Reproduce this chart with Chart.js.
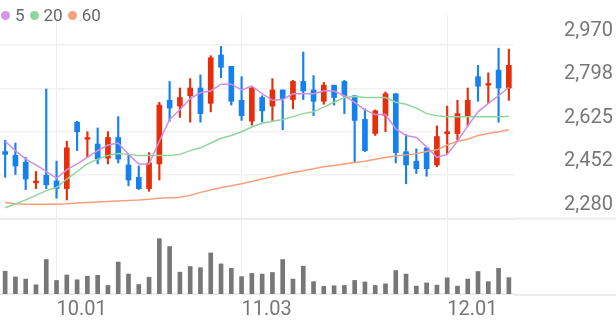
<!DOCTYPE html>
<html>
<head>
<meta charset="utf-8">
<script src="https://cdn.jsdelivr.net/npm/chart.js@4/dist/chart.umd.min.js"></script>
<style>
  body { margin: 0; background: #fff; }
  #wrap { position: relative; width: 616px; height: 321px; }
  #legend { position: absolute; left: 1px; top: 5px; font: 17px Roboto, sans-serif; color: #666; display: flex; align-items: center; }
  #legend i { display: inline-block; width: 9px; height: 9px; border-radius: 50%; margin-right: 5px; }
  #legend span { margin-right: 5px; }
</style>
</head>
<body>
<div id="wrap">
  <canvas id="chart" width="616" height="321"></canvas>
  <div id="legend">
    <i style="background:#d596ea"></i><span>5</span>
    <i style="background:#8fd69c"></i><span>20</span>
    <i style="background:#f8a17c"></i><span>60</span>
  </div>
</div>
<script>
// daily candles, 09.24 - 12.09
const dates = ['09.24', '09.25', '09.26', '09.29', '09.30',
    '10.01', '10.02', '10.10', '10.13', '10.14', '10.15', '10.16', '10.17', '10.20', '10.21',
    '10.22', '10.23', '10.24', '10.27', '10.28', '10.29', '10.30', '10.31',
    '11.03', '11.04', '11.05', '11.06', '11.07', '11.10', '11.11', '11.12', '11.13', '11.14',
    '11.17', '11.18', '11.19', '11.20', '11.21', '11.24', '11.25', '11.26', '11.27', '11.28',
    '12.01', '12.02', '12.03', '12.04', '12.05', '12.08', '12.09'];

const open = [2546, 2531, 2504, 2422, 2452, 2429, 2399, 2663, 2595, 2576,
    2520, 2602, 2493, 2444, 2399, 2497, 2750, 2727, 2768, 2799,
    2738, 2930, 2885, 2750, 2667, 2761, 2727, 2791, 2753, 2825,
    2791, 2746, 2810, 2825, 2768, 2674, 2618, 2689, 2776, 2546,
    2508, 2561, 2493, 2617, 2618, 2689, 2844, 2810, 2870, 2799];
const high = [2591, 2580, 2523, 2467, 2795, 2508, 2587, 2667, 2625, 2640,
    2625, 2685, 2535, 2489, 2542, 2742, 2825, 2799, 2836, 2851,
    2927, 2964, 2885, 2844, 2806, 2768, 2836, 2791, 2829, 2942,
    2848, 2821, 2810, 2829, 2768, 2716, 2712, 2783, 2776, 2614,
    2557, 2561, 2648, 2727, 2750, 2799, 2889, 2859, 2957, 2953];
const low = [2444, 2455, 2395, 2399, 2399, 2361, 2354, 2550, 2523, 2497,
    2497, 2501, 2410, 2395, 2388, 2433, 2667, 2682, 2663, 2663,
    2704, 2840, 2731, 2670, 2651, 2663, 2667, 2633, 2716, 2753,
    2689, 2734, 2731, 2697, 2504, 2546, 2610, 2625, 2501, 2418,
    2459, 2448, 2486, 2538, 2591, 2648, 2746, 2738, 2663, 2750];
const close = [2535, 2489, 2437, 2429, 2414, 2399, 2561, 2625, 2602, 2516,
    2602, 2516, 2433, 2399, 2501, 2731, 2719, 2761, 2799, 2697,
    2919, 2881, 2746, 2689, 2799, 2708, 2791, 2757, 2825, 2787,
    2746, 2810, 2761, 2768, 2670, 2550, 2708, 2776, 2542, 2493,
    2478, 2478, 2606, 2625, 2697, 2750, 2806, 2817, 2799, 2889];

const volume = [240, 180, 157, 97, 363, 143, 200, 150, 187, 197,
    90, 337, 210, 100, 177, 583, 500, 230, 290, 277,
    433, 317, 270, 183, 217, 210, 227, 363, 157, 293,
    130, 80, 87, 90, 143, 127, 90, 107, 247, 210,
    83, 117, 93, 170, 83, 157, 237, 130, 270, 173];

const ma5 = [2587, 2550, 2516, 2493, 2467, 2440, 2474, 2497, 2523, 2550,
    2572, 2580, 2535, 2497, 2497, 2587, 2674, 2712, 2757, 2780,
    2787, 2814, 2814, 2791, 2806, 2776, 2750, 2753, 2776, 2776,
    2776, 2787, 2787, 2768, 2742, 2712, 2693, 2693, 2636, 2610,
    2602, 2565, 2523, 2535, 2587, 2648, 2704, 2738, 2768, 2802];
const ma20 = [2323, 2338, 2354, 2372, 2391, 2403, 2437, 2467, 2497, 2516,
    2531, 2538, 2535, 2531, 2531, 2531, 2531, 2535, 2550, 2561,
    2580, 2599, 2610, 2625, 2644, 2659, 2667, 2674, 2685, 2697,
    2704, 2723, 2742, 2761, 2765, 2761, 2761, 2761, 2742, 2734,
    2719, 2697, 2689, 2685, 2685, 2685, 2685, 2685, 2685, 2687];
const ma60 = [2344, 2339, 2337, 2337, 2337, 2337, 2339, 2342, 2344, 2346,
    2348, 2350, 2352, 2354, 2357, 2361, 2363, 2365, 2372, 2384,
    2393, 2403, 2410, 2418, 2427, 2437, 2446, 2455, 2463, 2470,
    2478, 2486, 2491, 2497, 2503, 2508, 2516, 2523, 2529, 2533,
    2538, 2546, 2553, 2572, 2587, 2595, 2610, 2618, 2625, 2633];

const priceTicks = [2280, 2452.5, 2625, 2797.5, 2970];
const priceLabels = ['2,280', '2,452', '2,625', '2,798', '2,970'];

const UP = '#e62e0b';
const DOWN = '#1580f0';
const candleColor = ctx => close[ctx.dataIndex] >= open[ctx.dataIndex] ? UP : DOWN;

// first trading day of a month gets a label + grid line
const isMonthStart = i => i > 0 && dates[i].slice(0, 2) !== dates[i - 1].slice(0, 2);

// price/volume separator and bottom line run under the axis labels too
const fullWidthLines = {
    id: 'fullWidthLines',
    afterDraw(chart) {
        const { ctx, chartArea, scales } = chart;
        const ySep = scales.y.getPixelForValue(priceTicks[0]);
        ctx.save();
        ctx.strokeStyle = '#ececec';
        ctx.lineWidth = 2;
        ctx.beginPath();
        ctx.moveTo(chartArea.right, ySep);
        ctx.lineTo(chart.width, ySep);
        ctx.moveTo(chartArea.right, chartArea.bottom + 1);
        ctx.lineTo(chart.width, chartArea.bottom + 1);
        ctx.stroke();
        ctx.restore();
    }
};

new Chart(document.getElementById('chart'), {
    data: {
        labels: dates,
        datasets: [
            { type: 'line', data: ma5, borderColor: '#cf8fe6', borderWidth: 1.5, pointRadius: 0, tension: 0, order: 1 },
            { type: 'line', data: ma20, borderColor: '#8ed69b', borderWidth: 1.5, pointRadius: 0, tension: 0, order: 2 },
            { type: 'line', data: ma60, borderColor: '#f7a07c', borderWidth: 1.5, pointRadius: 0, tension: 0, order: 3 },
            {
                type: 'bar', data: open.map((o, i) => [o, close[i]]),
                backgroundColor: candleColor, barThickness: 5, grouped: false, order: 4
            },
            {
                type: 'bar', data: low.map((l, i) => [l, high[i]]),
                backgroundColor: candleColor, barThickness: 1.5, grouped: false, order: 5
            },
            {
                type: 'bar', data: volume, yAxisID: 'yv',
                backgroundColor: '#777777', barThickness: 4, grouped: false, order: 6
            }
        ]
    },
    options: {
        responsive: false,
        animation: false,
        layout: { padding: { top: 0, left: 0, bottom: 0, right: 3 } },
        plugins: { legend: { display: false }, tooltip: { enabled: false } },
        scales: {
            x: {
                offset: true,
                grid: {
                    offset: false,
                    drawTicks: false,
                    color: ctx => isMonthStart(ctx.index) ? '#eeeeee' : 'rgba(0,0,0,0)'
                },
                border: { color: '#ececec', width: 2 },
                ticks: {
                    autoSkip: false,
                    maxRotation: 0,
                    align: 'start',
                    padding: 4,
                    color: '#777',
                    font: { family: 'Roboto', size: 20 },
                    callback: (v, i) => isMonthStart(i) ? dates[i] : ''
                },
                afterFit: s => { s.height = 27; }
            },
            y: {
                position: 'right',
                min: 1980,
                max: 3089,
                afterBuildTicks: s => { s.ticks = priceTicks.map(v => ({ value: v })); },
                grid: {
                    drawTicks: false,
                    color: ctx => ctx.tick && ctx.tick.value === 2280 ? '#ececec' : '#f2f2f2',
                    lineWidth: ctx => ctx.tick && ctx.tick.value === 2280 ? 2 : 1.5
                },
                border: { display: false },
                ticks: {
                    crossAlign: 'far',
                    labelOffset: -14,
                    color: '#777',
                    font: { family: 'Roboto', size: 20 },
                    callback: (v, i) => priceLabels[i]
                },
                afterFit: s => { s.width = 99; }
            },
            yv: {
                display: false,
                min: 0,
                max: 2940
            }
        }
    },
    plugins: [fullWidthLines]
});
</script>
</body>
</html>
